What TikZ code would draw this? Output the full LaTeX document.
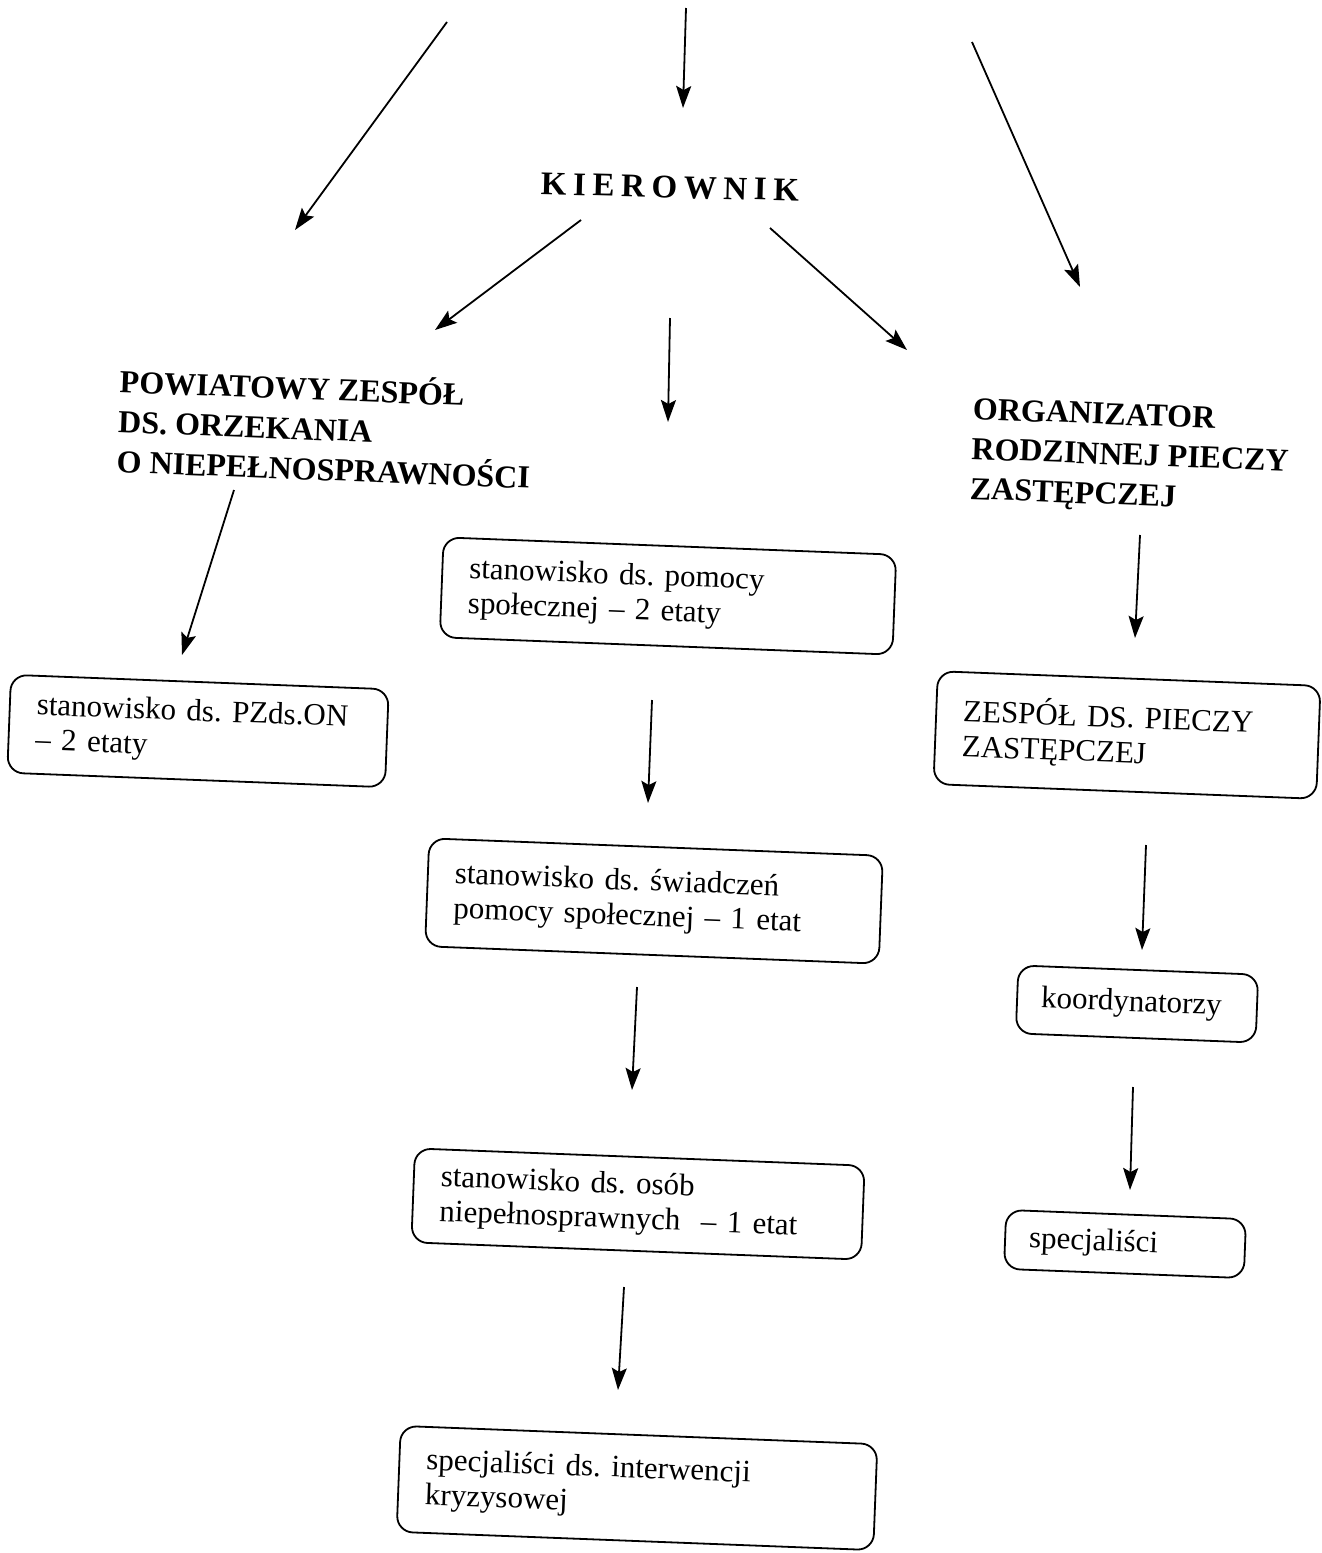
\documentclass[tikz,border=0pt]{standalone}
\usepackage{fontspec}
\setmainfont{Liberation Serif}
\usetikzlibrary{arrows.meta}
\frenchspacing
\begin{document}
\begin{tikzpicture}[x=1pt,y=-1pt,
  arr/.style={line width=1.8pt,-{Stealth[length=22pt,width=15pt,inset=4pt]}},
  box/.style={draw,line width=1.8pt,rounded corners=16pt,rotate=-2.2,align=left,
    inner xsep=27pt,inner ysep=4pt,font=\fontsize{31}{35}\selectfont\frenchspacing},
  head/.style={rotate=-2.2,align=left,inner sep=0pt,font=\bfseries\fontsize{32}{40}\selectfont},
  boss/.style={rotate=-1.5,inner sep=0pt,font=\bfseries\fontsize{33}{40}\selectfont\addfontfeature{LetterSpace=20}}]
\useasboundingbox (0,0) rectangle (1322,1553);
% heading nodes
\node[boss] (kier) at (670,187) {KIEROWNIK};
\node[head] (pzon) at (325,427) {POWIATOWY ZESPÓŁ\\DS. ORZEKANIA\\O NIEPEŁNOSPRAWNOŚCI};
\node[head] (orpz) at (1130,458) {ORGANIZATOR\\RODZINNEJ PIECZY\\ZASTĘPCZEJ};
% boxes
\node[box,text width=324pt,minimum height=98pt] (bpzds) at (198,731) {stanowisko ds. PZds.ON\\– 2 etaty};
\node[box,text width=399pt,minimum height=100pt] (bpom) at (668,596) {stanowisko ds. pomocy\\społecznej – 2 etaty};
\node[box,text width=400pt,minimum height=108pt] (bswi) at (654,901) {stanowisko ds. świadczeń\\pomocy społecznej – 1 etat};
\node[box,text width=396pt,minimum height=94pt] (bos) at (638,1204) {stanowisko ds. osób\\niepełnosprawnych\ \ – 1 etat};
\node[box,text width=423pt,minimum height=106pt] (bkry) at (637,1488) {specjaliści ds. interwencji\\kryzysowej};
\node[box,text width=329pt,minimum height=113pt] (bzes) at (1127,735) {ZESPÓŁ DS. PIECZY\\ZASTĘPCZEJ};
\node[box,text width=192pt,minimum height=68pt,inner xsep=24pt] (bkoo) at (1137,1004) {koordynatorzy};
\node[box,text width=192pt,minimum height=59pt,inner xsep=24pt] (bspe) at (1125,1244) {specjaliści};
% arrow end points
\coordinate (a1s) at (447,22);   \coordinate (a1e) at (295,230);
\coordinate (a2s) at (686,8);    \coordinate (a2e) at (683,108);
\coordinate (a3s) at (972,42);   \coordinate (a3e) at (1080,287);
\coordinate (a4s) at (581,220);  \coordinate (a4e) at (435,330);
\coordinate (a5s) at (670,318);  \coordinate (a5e) at (668,422);
\coordinate (a6s) at (770,228);  \coordinate (a6e) at (907,350);
\coordinate (a7s) at (234,490);  \coordinate (a7e) at (182,655);
\coordinate (a8s) at (652,700);  \coordinate (a8e) at (648,803);
\coordinate (a9s) at (637,987);  \coordinate (a9e) at (632,1090);
\coordinate (a10s) at (624,1287); \coordinate (a10e) at (618,1390);
\coordinate (a11s) at (1140,535); \coordinate (a11e) at (1135,638);
\coordinate (a12s) at (1146,845); \coordinate (a12e) at (1142,950);
\coordinate (a13s) at (1133,1087); \coordinate (a13e) at (1130,1190);
\foreach \i in {1,...,13} {\draw[arr] (a\i s) -- (a\i e);}
\end{tikzpicture}
\end{document}
